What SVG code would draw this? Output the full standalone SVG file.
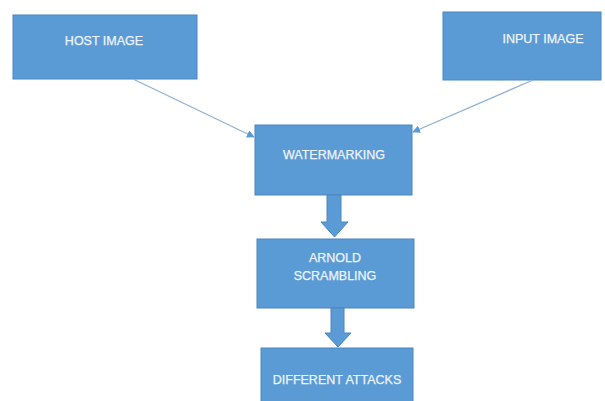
<svg xmlns="http://www.w3.org/2000/svg" width="605" height="401" viewBox="0 0 605 401">
<defs>
<style>
.box{fill:#5b9bd5;stroke:#4a86c0;stroke-width:1}
.lbl{font-family:"Liberation Sans",Arial,sans-serif;font-size:12.5px;fill:#eef4fb;text-anchor:middle;stroke:#eef4fb;stroke-width:0.25}
.thin{stroke:#8fb1d3;stroke-width:1.3;fill:none}
.block{fill:#5b9bd5;stroke:#4a86c0;stroke-width:1}
</style>
<marker id="ah" viewBox="0 0 10 10" refX="9" refY="5" markerWidth="6" markerHeight="6" orient="auto">
<path d="M0,0 L10,5 L0,10 z" fill="#5b9bd5"/>
</marker>
</defs>
<rect width="605" height="401" fill="#ffffff"/>
<g id="host">
<rect class="box" x="13" y="15" width="184" height="64"/>
<text class="lbl" x="104" y="45">HOST IMAGE</text>
</g>
<g id="input">
<rect class="box" x="443" y="12" width="158" height="68"/>
<text class="lbl" x="543" y="43">INPUT IMAGE</text>
</g>
<g id="watermarking">
<rect class="box" x="255" y="125" width="157" height="70"/>
<text class="lbl" x="334" y="159">WATERMARKING</text>
</g>
<g id="arnold">
<rect class="box" x="257" y="239" width="157" height="69"/>
<text class="lbl" x="335" y="262">ARNOLD</text>
<text class="lbl" x="335" y="280">SCRAMBLING</text>
</g>
<g id="attacks">
<rect class="box" x="261" y="348" width="152" height="60"/>
<text class="lbl" x="337" y="384">DIFFERENT ATTACKS</text>
</g>
<g id="connectors">
<line class="thin" x1="133" y1="79" x2="254" y2="137" marker-end="url(#ah)"/>
<line class="thin" x1="533" y1="80" x2="413" y2="132" marker-end="url(#ah)"/>
<path class="block" d="M327,195 L341,195 L341,222 L348,222 L334.5,237 L321,222 L327,222 Z"/>
<path class="block" d="M331,308 L344,308 L344,333 L351,333 L338,347 L325,333 L331,333 Z"/>
</g>
</svg>
